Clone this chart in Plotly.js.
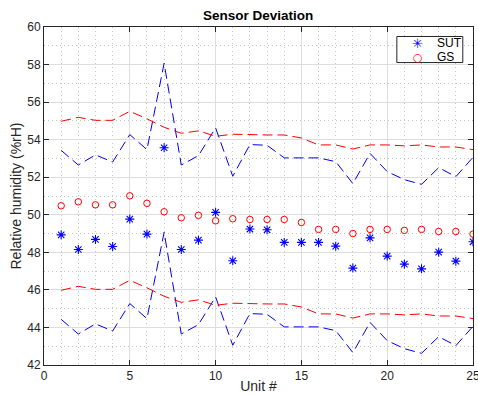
<!DOCTYPE html>
<html><head><meta charset="utf-8">
<script src="https://cdn.plot.ly/plotly-3.0.1.min.js"></script>
<style>html,body{margin:0;padding:0;background:#fff}#chart{width:478px;height:394px}</style>
</head><body><div id="chart"></div>
<script>
const units = [1,2,3,4,5,6,7,8,9,10,11,12,13,14,15,16,17,18,19,20,21,22,23,24,25];
const sut = [48.93,48.15,48.69,48.31,49.77,48.97,53.57,48.15,48.65,50.13,47.55,49.24,49.2,48.53,48.53,48.53,48.33,47.16,48.77,47.8,47.37,47.12,48.01,47.53,48.56];
const gs  = [50.48,50.69,50.53,50.53,51.01,50.61,50.16,49.84,49.97,49.68,49.79,49.75,49.75,49.75,49.59,49.22,49.22,49.0,49.22,49.22,49.17,49.22,49.11,49.11,48.97];
const tolerance = 4.5;
const seriesNames = ['SUT', 'GS'];

const sutUp = sut.map(v => v + tolerance), sutLo = sut.map(v => v - tolerance);
const gsUp = gs.map(v => v + tolerance), gsLo = gs.map(v => v - tolerance);

const blue = 'rgb(0,0,255)', red = 'rgb(255,0,0)';
const dash = '10px,5px';
const font = 'Liberation Sans, Arial, Helvetica, sans-serif';

const traces = [
  {x: units, y: sut, type:'scatter', mode:'markers', name:seriesNames[0],
   marker:{symbol:'asterisk-open', size:7.5, color:blue, line:{color:blue, width:1.1}}},
  {x: units, y: gs, type:'scatter', mode:'markers', name:seriesNames[1],
   marker:{symbol:'circle-open', size:6.5, color:red, line:{color:red, width:1}}},
  {x: units, y: sutUp, type:'scatter', mode:'lines', line:{color:blue, width:1, dash:dash}},
  {x: units, y: sutLo, type:'scatter', mode:'lines', line:{color:blue, width:1, dash:dash}},
  {x: units, y: gsUp, type:'scatter', mode:'lines', line:{color:red, width:1, dash:dash}},
  {x: units, y: gsLo, type:'scatter', mode:'lines', line:{color:red, width:1, dash:dash}}
];

const axisCommon = {
  showline:true, linecolor:'#262626', linewidth:1, mirror:'allticks',
  ticks:'inside', ticklen:5, tickcolor:'#262626', tickwidth:1,
  showgrid:true, gridcolor:'#dedede', gridwidth:1, zeroline:false,
  ticklabeloverflow:'allow',
  tickfont:{family:font, size:12, color:'#262626'}
};

// compact MATLAB-style legend box (paper coordinates)
const lg = {x0:0.8225, x1:0.9762, y0:0.8948, y1:0.9719, sym:0.8714, txt:0.9143, rows:[0.9523, 0.9126]};
const legendAnn = [];
[[seriesNames[0], '✳', blue, 13], [seriesNames[1], '○', red, 11]].forEach((e, i) => {
  legendAnn.push({xref:'paper', yref:'paper', x:lg.sym, y:lg.rows[i], xanchor:'center', yanchor:'middle',
    text:e[1], showarrow:false, height:12, borderpad:0, font:{family:'DejaVu Sans', size:e[3], color:e[2]}});
  legendAnn.push({xref:'paper', yref:'paper', x:lg.txt, y:lg.rows[i], xanchor:'left', yanchor:'middle',
    text:e[0], showarrow:false, height:12, borderpad:0, font:{family:font, size:12, color:'#000'}});
});

const layout = {
  width:478, height:394,
  margin:{l:44.3, r:4.5, t:27.2, b:29.3},
  paper_bgcolor:'#fff', plot_bgcolor:'#fff',
  font:{family:font, color:'#262626'},
  showlegend:false,
  title:{text:'<b>Sensor Deviation</b>', font:{family:font, size:13.5, color:'#000'}, x:0.54, xanchor:'center', y:0.96, yanchor:'middle'},
  xaxis: Object.assign({}, axisCommon, {
    range:[0,25], tickvals:[0,5,10,15,20,25],
    minor:{dtick:1, tick0:0, showgrid:true, gridcolor:'#c4c4c4', griddash:'1px,3px', gridwidth:1, ticks:''},
    title:{text:'Unit #', font:{family:font, size:14, color:'#262626'}, standoff:1}
  }),
  yaxis: Object.assign({}, axisCommon, {
    range:[42,60], tickvals:[42,44,46,48,50,52,54,56,58,60],
    minor:{dtick:1, tick0:42, showgrid:true, gridcolor:'#c4c4c4', griddash:'1px,3px', gridwidth:1, ticks:''},
    title:{text:'Relative humidity (%rH)', font:{family:font, size:14, color:'#262626'}, standoff:2}
  }),
  shapes:[{type:'rect', xref:'paper', yref:'paper', x0:lg.x0, x1:lg.x1, y0:lg.y0, y1:lg.y1,
           fillcolor:'#fff', line:{color:'#262626', width:1}, layer:'above'}],
  annotations: legendAnn
};

Plotly.newPlot('chart', traces, layout, {staticPlot:true, displayModeBar:false});
</script></body></html>
